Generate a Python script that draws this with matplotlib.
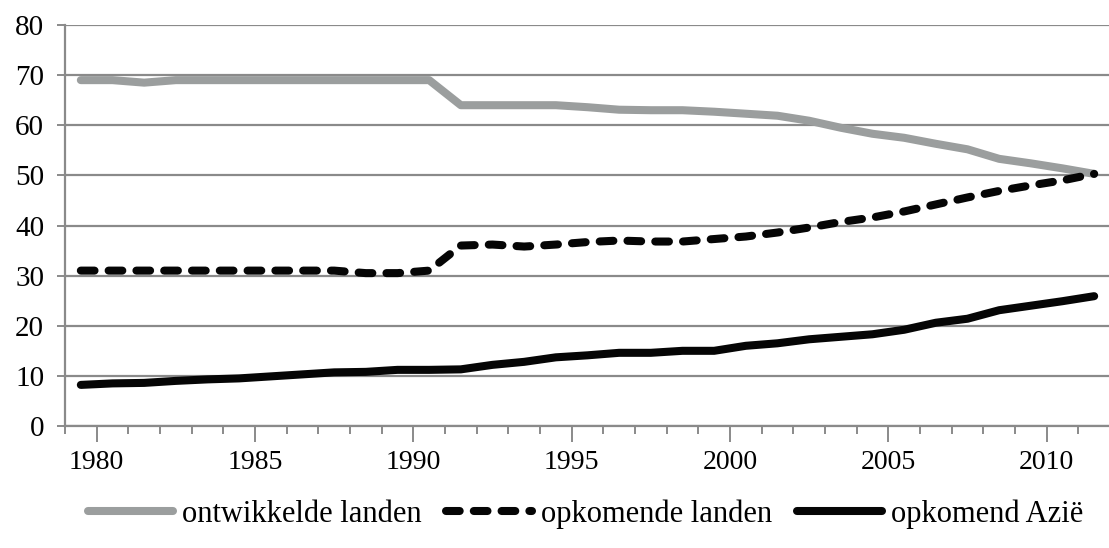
import matplotlib
matplotlib.use("Agg")
import matplotlib.pyplot as plt
from matplotlib.ticker import MultipleLocator

# jaren en aandelen (%)
years = list(range(1980, 2013))
ontwikkeld = [69, 69, 68.5, 69, 69, 69, 69, 69, 69, 69, 69, 69,
              64, 64, 64, 64, 63.6, 63.1, 63.0, 63.0, 62.7, 62.3, 61.9,
              60.9, 59.5, 58.3, 57.5, 56.3, 55.2, 53.3, 52.4, 51.4, 50.3]
opkomend = [31, 31, 31, 31, 31, 31, 31, 31, 31, 30.5, 30.5, 31,
            36.0, 36.2, 35.8, 36.2, 36.7, 37.0, 36.8, 36.8, 37.3, 37.8, 38.6,
            39.6, 40.7, 41.6, 42.8, 44.2, 45.6, 46.9, 48.0, 49.0, 50.3]
azie = [8.2, 8.5, 8.6, 9.0, 9.3, 9.5, 9.9, 10.3, 10.7, 10.8, 11.2, 11.2,
        11.3, 12.2, 12.8, 13.7, 14.1, 14.6, 14.6, 15.0, 15.0, 16.0, 16.5,
        17.3, 17.8, 18.3, 19.2, 20.6, 21.4, 23.1, 24.0, 24.9, 25.9]
labels = ["ontwikkelde landen", "opkomende landen", "opkomend Azië"]
major_years = [1980, 1985, 1990, 1995, 2000, 2005, 2010]

plt.rcParams['font.family'] = ['Liberation Serif', 'DejaVu Serif']

fig = plt.figure(figsize=(11.09, 5.48), dpi=100)
ax = fig.add_axes([65 / 1109, 122 / 548, 1045 / 1109, 401 / 548])

# punten liggen tussen de streepjes (categorie-as)
xs = [y - 0.5 for y in years]
lw = 5.8
ax.plot(xs, ontwikkeld, color='#9b9e9e', lw=lw, solid_capstyle='round',
        solid_joinstyle='round', label=labels[0], zorder=3)
ax.plot(xs, opkomend, color='#050505', lw=lw, linestyle=(0, (1.7, 1.75)),
        dash_capstyle='round', dash_joinstyle='round', label=labels[1], zorder=4)
ax.plot(xs, azie, color='#050505', lw=lw, solid_capstyle='round',
        solid_joinstyle='round', label=labels[2], zorder=4)

ax.set_xlim(1979, 2012)
ax.set_ylim(0, 80)
ax.set_yticks(range(0, 81, 10))
ax.set_xticks(major_years)
ax.xaxis.set_minor_locator(MultipleLocator(1))

grid_c = '#8a8a8a'
ax.yaxis.grid(True, color=grid_c, lw=1.6)
ax.set_axisbelow(True)
for s in ['top', 'right']:
    ax.spines[s].set_visible(False)
for s in ['left', 'bottom']:
    ax.spines[s].set_color(grid_c)
    ax.spines[s].set_linewidth(1.6)

ax.tick_params(axis='y', length=6, width=1.4, color=grid_c, pad=9, labelsize=21)
ax.tick_params(axis='x', which='major', length=11.5, width=1.4, color=grid_c,
               pad=6, labelsize=20)
ax.tick_params(axis='x', which='minor', length=6, width=1.4, color=grid_c)

fig.legend(loc='center', bbox_to_anchor=(0.528, 0.062), ncol=3, frameon=False,
           fontsize=22, handlelength=2.8, handletextpad=0.3, columnspacing=0.8)

fig.savefig('out.png', dpi=100)
